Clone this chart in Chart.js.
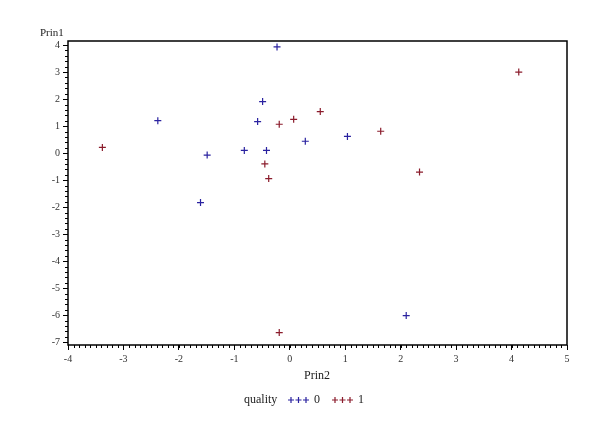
<!DOCTYPE html>
<html>
<head>
<meta charset="utf-8">
<script src="https://cdn.jsdelivr.net/npm/chart.js@4"></script>
<style>
  html, body { margin: 0; padding: 0; background: #fff; }
  #wrap { width: 616px; height: 424px; }
</style>
</head>
<body>
<div id="wrap"><canvas id="scatterChart" width="616" height="424"></canvas></div>
<script>
// quality = 0 (Prin2, Prin1)
const quality0 = [
  { x: -0.23, y: 3.93 },
  { x: -2.38, y: 1.20 },
  { x: -0.49, y: 1.91 },
  { x: -0.58, y: 1.17 },
  { x: -1.49, y: -0.07 },
  { x: -0.82, y: 0.10 },
  { x: -0.42, y: 0.10 },
  { x: 0.28, y: 0.44 },
  { x: 1.04, y: 0.62 },
  { x: -1.61, y: -1.83 },
  { x: 2.10, y: -6.01 }
];
// quality = 1
const quality1 = [
  { x: -3.38, y: 0.21 },
  { x: -0.19, y: 1.07 },
  { x: 0.07, y: 1.25 },
  { x: 0.55, y: 1.54 },
  { x: -0.45, y: -0.40 },
  { x: -0.38, y: -0.94 },
  { x: 1.64, y: 0.81 },
  { x: 2.34, y: -0.70 },
  { x: 4.13, y: 3.00 },
  { x: -0.19, y: -6.64 }
];
const qualityLabels = ["0", "1"];
const qualityColors = ["#2a22a0", "#8b1c2c"];

const serif = "'Liberation Serif', 'DejaVu Serif', serif";

// frame, minor ticks, axis titles and legend
const sasDecor = {
  id: "sasDecor",
  afterDraw(chart) {
    const ctx = chart.ctx;
    const a = chart.chartArea;
    const xs = chart.scales.x;
    const ys = chart.scales.y;
    ctx.save();
    ctx.strokeStyle = "#000";
    ctx.lineWidth = 1.5;
    ctx.strokeRect(a.left, a.top, a.right - a.left, a.bottom - a.top);

    // minor ticks
    ctx.lineWidth = 1;
    ctx.beginPath();
    for (let v = -4; v <= 5.0001; v += 0.1) {
      const px = Math.round(xs.getPixelForValue(v)) + 0.5;
      ctx.moveTo(px, a.bottom);
      ctx.lineTo(px, a.bottom + 3);
    }
    for (let v = -7; v <= 4.0001; v += 0.2) {
      const py = Math.round(ys.getPixelForValue(v)) + 0.5;
      ctx.moveTo(a.left, py);
      ctx.lineTo(a.left - 3, py);
    }
    ctx.stroke();

    ctx.fillStyle = "#222";
    ctx.font = "11px " + serif;
    ctx.textBaseline = "middle";
    ctx.textAlign = "left";
    ctx.fillText("Prin1", 40, 33);
    ctx.font = "12px " + serif;
    ctx.textAlign = "center";
    ctx.fillText("Prin2", 317, 376);

    // legend
    const ly = 400;
    ctx.textAlign = "left";
    ctx.fillText("quality", 244, ly);
    let lx = 291;
    chart.data.datasets.forEach((ds, i) => {
      ctx.strokeStyle = ds.borderColor;
      ctx.lineWidth = 1.2;
      for (let k = 0; k < 3; k++) {
        const cx = lx + k * 7.5;
        ctx.beginPath();
        ctx.moveTo(cx - 3, ly);
        ctx.lineTo(cx + 3, ly);
        ctx.moveTo(cx, ly - 3);
        ctx.lineTo(cx, ly + 3);
        ctx.stroke();
      }
      ctx.fillStyle = "#222";
      ctx.fillText(ds.label, lx + 23, ly);
      lx += 44;
    });
    ctx.restore();
  }
};

new Chart(document.getElementById("scatterChart"), {
  type: "scatter",
  data: {
    datasets: [quality0, quality1].map((pts, i) => ({
      label: qualityLabels[i],
      data: pts,
      pointStyle: "cross",
      pointRadius: 3.5,
      pointBorderWidth: 1.2,
      borderColor: qualityColors[i],
      backgroundColor: qualityColors[i]
    }))
  },
  options: {
    responsive: false,
    animation: false,
    layout: { padding: { top: 41, right: 49, left: 0, bottom: 0 } },
    plugins: { legend: { display: false }, tooltip: { enabled: false } },
    scales: {
      x: {
        type: "linear",
        min: -4,
        max: 5,
        afterFit: (s) => { s.height = 79; },
        border: { display: false },
        grid: { drawOnChartArea: false, drawTicks: true, tickLength: 5, color: "#000" },
        ticks: {
          stepSize: 1,
          padding: 3,
          color: "#333",
          font: { family: serif, size: 10 }
        }
      },
      y: {
        type: "linear",
        min: -7.1,
        max: 4.15,
        afterFit: (s) => { s.width = 68; },
        afterBuildTicks: (s) => {
          s.ticks = [];
          for (let v = -7; v <= 4; v++) s.ticks.push({ value: v });
        },
        border: { display: false },
        grid: { drawOnChartArea: false, drawTicks: true, tickLength: 5, color: "#000" },
        ticks: {
          padding: 3,
          color: "#333",
          font: { family: serif, size: 10 }
        }
      }
    }
  },
  plugins: [sasDecor]
});
</script>
</body>
</html>
